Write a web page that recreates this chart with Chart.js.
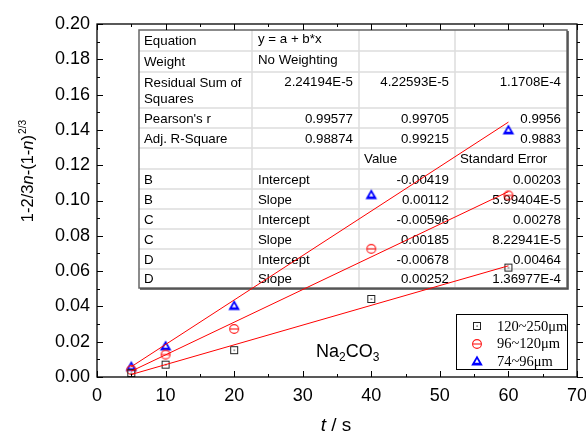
<!DOCTYPE html>
<html><head><meta charset="utf-8">
<script src="https://cdn.jsdelivr.net/npm/chart.js@4"></script>
<style>html,body{margin:0;padding:0;background:#fff}#wrap{width:586px;height:435px;position:relative}</style>
</head><body><div id="wrap"><canvas id="c" width="586" height="435"></canvas></div>
<script>
// ---- data ----
const timeValues = [5, 10, 20, 40, 60];
const series120to250 = [0.0022, 0.0070, 0.0152, 0.0442, 0.0620];
const series96to120 = [0.0040, 0.0127, 0.0272, 0.0726, 0.1029];
const series74to96 = [0.0060, 0.0176, 0.0405, 0.1033, 0.1400];
const fitX = [5, 60];
const fit120to250 = [0.00141, 0.06301];
const fit96to120 = [0.00329, 0.10504];
const fit74to96 = [0.00582, 0.14442];
const seriesLabels = ['120~250\u03bcm', '96~120\u03bcm', '74~96\u03bcm'];
const xTicks = [0, 10, 20, 30, 40, 50, 60, 70];
const yTicks = [0, 0.02, 0.04, 0.06, 0.08, 0.10, 0.12, 0.14, 0.16, 0.18, 0.20];
// fit report table
const tableRowLabels = ['Equation', 'Weight', 'Residual Sum of\nSquares', "Pearson's r", 'Adj. R-Square', '', 'B', 'B', 'C', 'C', 'D', 'D'];
const tableCol1 = ['y = a + b*x', 'No Weighting', '', '', '', '', 'Intercept', 'Slope', 'Intercept', 'Slope', 'Intercept', 'Slope'];
const tableCol2 = ['', '', '2.24194E-5', '0.99577', '0.98874', '', '', '', '', '', '', ''];
const tableCol3 = ['', '', '4.22593E-5', '0.99705', '0.99215', 'Value', '-0.00419', '0.00112', '-0.00596', '0.00185', '-0.00678', '0.00252'];
const tableCol4 = ['', '', '1.1708E-4', '0.9956', '0.9883', 'Standard Error', '0.00203', '5.99404E-5', '0.00278', '8.22941E-5', '0.00464', '1.36977E-4'];

const SANS = "'Liberation Sans', Arial, Helvetica, sans-serif";
const SERIF = "'Liberation Serif', 'Times New Roman', serif";

function mk(size, draw) {
  const c = document.createElement('canvas');
  c.width = size; c.height = size;
  draw(c.getContext('2d'));
  return c;
}
const squareMark = mk(12, g => {
  g.strokeStyle = '#222'; g.lineWidth = 1;
  g.strokeRect(2.5, 2.5, 7, 7);
  g.fillStyle = '#222'; g.fillRect(5.5, 5.5, 1.2, 1.2);
});
const circleMark = mk(12, g => {
  g.strokeStyle = '#ff1a1a'; g.lineWidth = 1.1;
  g.beginPath(); g.arc(6, 6, 4.4, 0, Math.PI * 2); g.stroke();
  g.beginPath(); g.moveTo(1.6, 6); g.lineTo(10.4, 6); g.stroke();
});
const triMark = mk(14, g => {
  g.fillStyle = '#0000ff';
  g.beginPath(); g.moveTo(7, 1.5); g.lineTo(12.8, 11.6); g.lineTo(1.2, 11.6); g.closePath(); g.fill();
  g.fillStyle = '#fff';
  g.beginPath(); g.moveTo(7, 5.0); g.lineTo(9.1, 8.7); g.lineTo(4.9, 8.7); g.closePath(); g.fill();
});
const marks = [squareMark, circleMark, triMark];

function pts(xs, ys) { return xs.map((x, i) => ({ x, y: ys[i] })); }

const colX = [139, 252, 359, 455, 567];
const rowY = [30, 51, 72, 108, 128, 148, 169, 189, 209, 229, 249, 269, 288];

const tablePlugin = {
  id: 'fitTable',
  beforeDatasetsDraw(chart) {
    const ctx = chart.ctx;
    ctx.save();
    const L = colX[0], R = colX[4], T = rowY[0], B = rowY[rowY.length - 1];
    ctx.fillStyle = '#fff';
    ctx.fillRect(L, T, R - L, B - T);
    ctx.strokeStyle = '#dcdcdc'; ctx.lineWidth = 1.5;
    for (let i = 1; i < rowY.length - 1; i++) {
      ctx.beginPath(); ctx.moveTo(L, rowY[i]); ctx.lineTo(R, rowY[i]); ctx.stroke();
    }
    for (let j = 1; j < colX.length - 1; j++) {
      ctx.beginPath(); ctx.moveTo(colX[j], T); ctx.lineTo(colX[j], B); ctx.stroke();
    }
    ctx.strokeStyle = '#666'; ctx.lineWidth = 1.5;
    ctx.strokeRect(L, T, R - L, B - T);
    ctx.strokeStyle = '#444'; ctx.lineWidth = 1.5;
    ctx.beginPath(); ctx.moveTo(L + 1, B + 1); ctx.lineTo(R + 1, B + 1); ctx.lineTo(R + 1, T + 1); ctx.stroke();

    ctx.font = '13.3px ' + SANS;
    ctx.fillStyle = '#000';
    ctx.textBaseline = 'middle';
    for (let i = 0; i < tableRowLabels.length; i++) {
      const top = rowY[i], bot = rowY[i + 1];
      const tall = bot - top > 25;
      const yMid = tall ? top + 10.5 : (top + bot) / 2 + 1;
      const lines = tableRowLabels[i].split('\n');
      ctx.textAlign = 'left';
      lines.forEach((ln, k) => ctx.fillText(ln, colX[0] + 5, yMid + k * 16 + (tall ? 1 : 0)));
      ctx.fillText(tableCol1[i], colX[1] + 6, yMid - (i < 2 ? 2 : 0));
      const isHeader = i === 5;
      [[tableCol2, 2], [tableCol3, 3], [tableCol4, 4]].forEach(([arr, c]) => {
        if (!arr[i]) return;
        if (isHeader) { ctx.textAlign = 'left'; ctx.fillText(arr[i], colX[c - 1] + 5, yMid); }
        else { ctx.textAlign = 'right'; ctx.fillText(arr[i], colX[c] - 6, yMid); }
      });
    }
    ctx.restore();
  }
};

const framePlugin = {
  id: 'frame',
  afterDatasetsDraw(chart) {
    const ctx = chart.ctx, xs = chart.scales.x, ys = chart.scales.y;
    const { left, right, top, bottom } = chart.chartArea;
    ctx.save();
    ctx.strokeStyle = '#000'; ctx.lineWidth = 1.3;
    ctx.strokeRect(left, top, right - left, bottom - top);
    ctx.lineWidth = 1;
    for (let v = 0; v <= 70; v += 5) {
      const px = Math.round(xs.getPixelForValue(v)) + 0.5;
      const len = v % 10 === 0 ? 6 : 3;
      ctx.beginPath(); ctx.moveTo(px, bottom); ctx.lineTo(px, bottom - len);
      ctx.moveTo(px, top); ctx.lineTo(px, top + len); ctx.stroke();
    }
    for (let k = 0; k <= 20; k++) {
      const py = Math.round(ys.getPixelForValue(k / 100)) + 0.5;
      const len = k % 2 === 0 ? 6 : 3;
      ctx.beginPath(); ctx.moveTo(left, py); ctx.lineTo(left + len, py);
      ctx.moveTo(right, py); ctx.lineTo(right + len, py); ctx.stroke();
    }
    // legend box
    const lx = 456, ly = 314, lw = 111, lh = 55;
    ctx.fillStyle = '#fff'; ctx.fillRect(lx, ly, lw, lh);
    ctx.strokeStyle = '#000'; ctx.lineWidth = 1;
    ctx.strokeRect(lx + 0.5, ly + 0.5, lw, lh);
    ctx.font = '14.5px ' + SERIF; ctx.fillStyle = '#000';
    ctx.textAlign = 'left'; ctx.textBaseline = 'middle';
    const rowsY = [326, 343.5, 361];
    seriesLabels.forEach((lab, i) => {
      const m = marks[i];
      ctx.drawImage(m, Math.round(477 - m.width / 2), Math.round(rowsY[i] - m.height / 2));
      ctx.fillText(lab, 497, rowsY[i] + 1);
    });
    // Na2CO3 label
    ctx.textBaseline = 'alphabetic';
    let x = 316; const by = 357;
    const big = '18px ' + SANS, small = '12px ' + SANS;
    [['Na', big, 0], ['2', small, 4], ['CO', big, 0], ['3', small, 4]].forEach(([t, f, dy]) => {
      ctx.font = f; ctx.fillText(t, x, by + dy); x += ctx.measureText(t).width;
    });
    ctx.restore();
  },
  afterDraw(chart) {
    const ctx = chart.ctx;
    ctx.save();
    ctx.fillStyle = '#000'; ctx.textBaseline = 'alphabetic'; ctx.textAlign = 'left';
    // y title
    const fs = 16.5;
    const parts = [['1-2/3', false, false], ['n', true, false], ['-(1-', false, false], ['n', true, false], [')', false, false], ['2/3', false, true]];
    const fontOf = p => (p[1] ? 'italic ' : '') + (p[2] ? (fs * 0.62).toFixed(1) : fs) + 'px ' + SANS;
    let W = 0;
    parts.forEach(p => { ctx.font = fontOf(p); W += ctx.measureText(p[0]).width + (p[2] ? 1 : 0); });
    ctx.translate(33, 171); ctx.rotate(-Math.PI / 2);
    let x = -W / 2;
    parts.forEach(p => {
      ctx.font = fontOf(p);
      if (p[2]) x += 1;
      ctx.fillText(p[0], x, p[2] ? -7 : 0);
      x += ctx.measureText(p[0]).width;
    });
    ctx.setTransform(1, 0, 0, 1, 0, 0);
    // x title
    const xp = [['t', true], [' / s', false]];
    let XW = 0;
    xp.forEach(p => { ctx.font = (p[1] ? 'italic ' : '') + '19px ' + SANS; XW += ctx.measureText(p[0]).width; });
    let xx = 336 - XW / 2;
    xp.forEach(p => { ctx.font = (p[1] ? 'italic ' : '') + '19px ' + SANS; ctx.fillText(p[0], xx, 431); xx += ctx.measureText(p[0]).width; });
    ctx.restore();
  }
};

const lineDs = (data) => ({ type: 'line', data, borderColor: '#ff0000', borderWidth: 1, pointRadius: 0, fill: false, order: 0 });
const markDs = (label, data, mark) => ({ type: 'scatter', label, data, pointStyle: mark, pointRadius: 5, showLine: false, order: 1 });

function noPad(s) { s.paddingLeft = 0; s.paddingRight = 0; s.paddingTop = 0; s.paddingBottom = 0; }

new Chart(document.getElementById('c'), {
  data: {
    datasets: [
      lineDs(pts(fitX, fit120to250)),
      lineDs(pts(fitX, fit96to120)),
      lineDs(pts(fitX, fit74to96)),
      markDs(seriesLabels[0], pts(timeValues, series120to250), squareMark),
      markDs(seriesLabels[1], pts(timeValues, series96to120), circleMark),
      markDs(seriesLabels[2], pts(timeValues, series74to96), triMark)
    ]
  },
  options: {
    responsive: false, animation: false,
    layout: { padding: { left: 0, right: 9, top: 24, bottom: 0 } },
    plugins: { legend: { display: false }, tooltip: { enabled: false } },
    scales: {
      x: {
        type: 'linear', min: 0, max: 70,
        afterBuildTicks: s => { s.ticks = xTicks.map(v => ({ value: v })); },
        afterFit: s => { s.height = 58; noPad(s); },
        grid: { display: false, drawTicks: false },
        border: { display: false },
        ticks: { color: '#000', font: { family: SANS, size: 18 }, padding: 8, maxRotation: 0, autoSkip: false }
      },
      y: {
        type: 'linear', min: 0, max: 0.2,
        afterBuildTicks: s => { s.ticks = yTicks.map(v => ({ value: v })); },
        afterFit: s => { s.width = 97; noPad(s); },
        grid: { display: false, drawTicks: false },
        border: { display: false },
        ticks: { color: '#000', font: { family: SANS, size: 18 }, padding: 7, callback: v => v.toFixed(2) }
      }
    }
  },
  plugins: [tablePlugin, framePlugin]
});
</script></body></html>
